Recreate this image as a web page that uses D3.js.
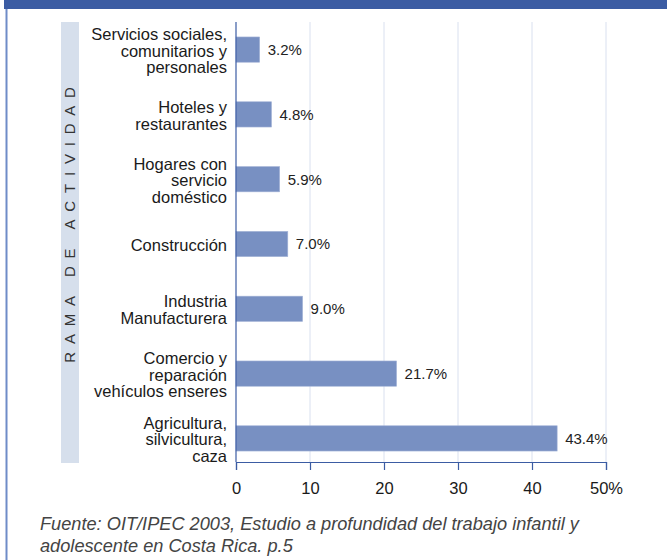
<!DOCTYPE html>
<html>
<head>
<meta charset="utf-8">
<script src="https://cdn.jsdelivr.net/npm/d3@7"></script>
<style>
  body { margin: 0; background: #fff; }
  svg { display: block; font-family: "Liberation Sans", Arial, sans-serif; }
</style>
</head>
<body>
<div id="chart"></div>
<script>
// Categories (top to bottom) and their shares in %
const categories = [
    ["Servicios sociales,", "comunitarios y", "personales"],
    ["Hoteles y", "restaurantes"],
    ["Hogares con", "servicio", "doméstico"],
    ["Construcción"],
    ["Industria", "Manufacturera"],
    ["Comercio y", "reparación", "vehículos enseres"],
    ["Agricultura,", "silvicultura,", "caza"]
];
const values = [3.2, 4.8, 5.9, 7.0, 9.0, 21.7, 43.4];
const ticks = [0, 10, 20, 30, 40, 50];
const axisTitle = "RAMA DE ACTIVIDAD";
const source = ["Fuente: OIT/IPEC 2003, Estudio a profundidad del trabajo infantil y",
                "adolescente en Costa Rica. p.5"];

const W = 667, H = 560;
const svg = d3.select("#chart").append("svg")
    .attr("width", W)
    .attr("height", H);

// Frame: top band and left rule
svg.append("rect").attr("x", 4).attr("y", 0).attr("width", W - 4).attr("height", 9).attr("fill", "#3b5ca3");
svg.append("rect").attr("x", 5.5).attr("y", 9).attr("width", 2).attr("height", H - 9).attr("fill", "#6f8cc8");

// Scales
const x = d3.scaleLinear().domain([0, 50]).range([236, 606]);
const idx = d3.range(categories.length);
const y = d3.scaleBand()
    .domain(idx)
    .range([17, 471])
    .paddingInner(0.61)
    .paddingOuter(0.308);

const plotTop = 22, plotBottom = 462;

// Side band with the rotated title
svg.append("rect")
    .attr("x", 61).attr("y", plotTop)
    .attr("width", 18).attr("height", plotBottom - plotTop + 1)
    .attr("fill", "#d6dfec");

svg.append("text")
    .attr("transform", "translate(75,221) rotate(-90)")
    .attr("text-anchor", "middle")
    .attr("font-size", 15)
    .attr("letter-spacing", "7.8px")
    .attr("fill", "#333")
    .text(axisTitle);

// Grid lines
svg.append("g")
    .selectAll("line")
    .data(ticks.slice(1))
    .enter()
    .append("line")
    .attr("x1", d => x(d)).attr("x2", d => x(d))
    .attr("y1", plotTop).attr("y2", plotBottom)
    .attr("stroke", "#d9e0ef")
    .attr("stroke-width", 1);

// Bars
svg.selectAll(".bar")
    .data(values)
    .enter()
    .append("rect")
    .attr("class", "bar")
    .attr("x", x(0))
    .attr("y", (d, i) => y(i))
    .attr("width", d => x(d) - x(0))
    .attr("height", y.bandwidth())
    .attr("fill", "#7890c2")
    .attr("stroke", "#a5b5d8")
    .attr("stroke-width", 0.6);

// Value labels
svg.selectAll(".val")
    .data(values)
    .enter()
    .append("text")
    .attr("class", "val")
    .attr("x", d => x(d) + 8)
    .attr("y", (d, i) => y(i) + y.bandwidth() / 2)
    .attr("dy", "0.36em")
    .attr("font-size", 15)
    .attr("fill", "#222")
    .text(d => d.toFixed(1) + "%");

// Category labels
const lineH = 16.5;
svg.selectAll(".cat")
    .data(categories)
    .enter()
    .append("text")
    .attr("class", "cat")
    .attr("text-anchor", "end")
    .attr("font-size", 16.5)
    .attr("fill", "#1a1a1a")
    .each(function(lines, i) {
        const cy = y(i) + y.bandwidth() / 2;
        const y0 = cy - (lines.length - 1) * lineH / 2;
        d3.select(this).selectAll("tspan")
            .data(lines)
            .enter()
            .append("tspan")
            .attr("x", 227)
            .attr("y", (t, j) => y0 + j * lineH)
            .attr("dy", "0.42em")
            .text(t => t);
    });

// Y axis line
svg.append("line")
    .attr("x1", x(0)).attr("x2", x(0))
    .attr("y1", plotTop).attr("y2", plotBottom)
    .attr("stroke", "#3b5ca3")
    .attr("stroke-width", 1.2);

// X axis
const xAxis = svg.append("g")
    .attr("transform", `translate(0,${plotBottom})`)
    .call(d3.axisBottom(x)
        .tickValues(ticks)
        .tickSize(8)
        .tickPadding(12)
        .tickFormat(d => d === 50 ? "50%" : d));
xAxis.select(".domain").attr("stroke", "#3b5ca3").attr("stroke-width", 1.2);
xAxis.selectAll(".tick line").attr("stroke", "#3b5ca3").attr("stroke-width", 1.2);
xAxis.selectAll(".tick text")
    .attr("font-size", 16.5)
    .attr("font-family", "Liberation Sans, Arial, sans-serif")
    .attr("fill", "#1a1a1a");

// Source note
svg.append("text")
    .attr("x", 40)
    .attr("font-size", 18.2)
    .attr("font-style", "italic")
    .attr("fill", "#444")
    .selectAll("tspan")
    .data(source)
    .enter()
    .append("tspan")
    .attr("x", 40)
    .attr("y", (d, i) => 530 + i * 22)
    .text(d => d);
</script>
</body>
</html>
